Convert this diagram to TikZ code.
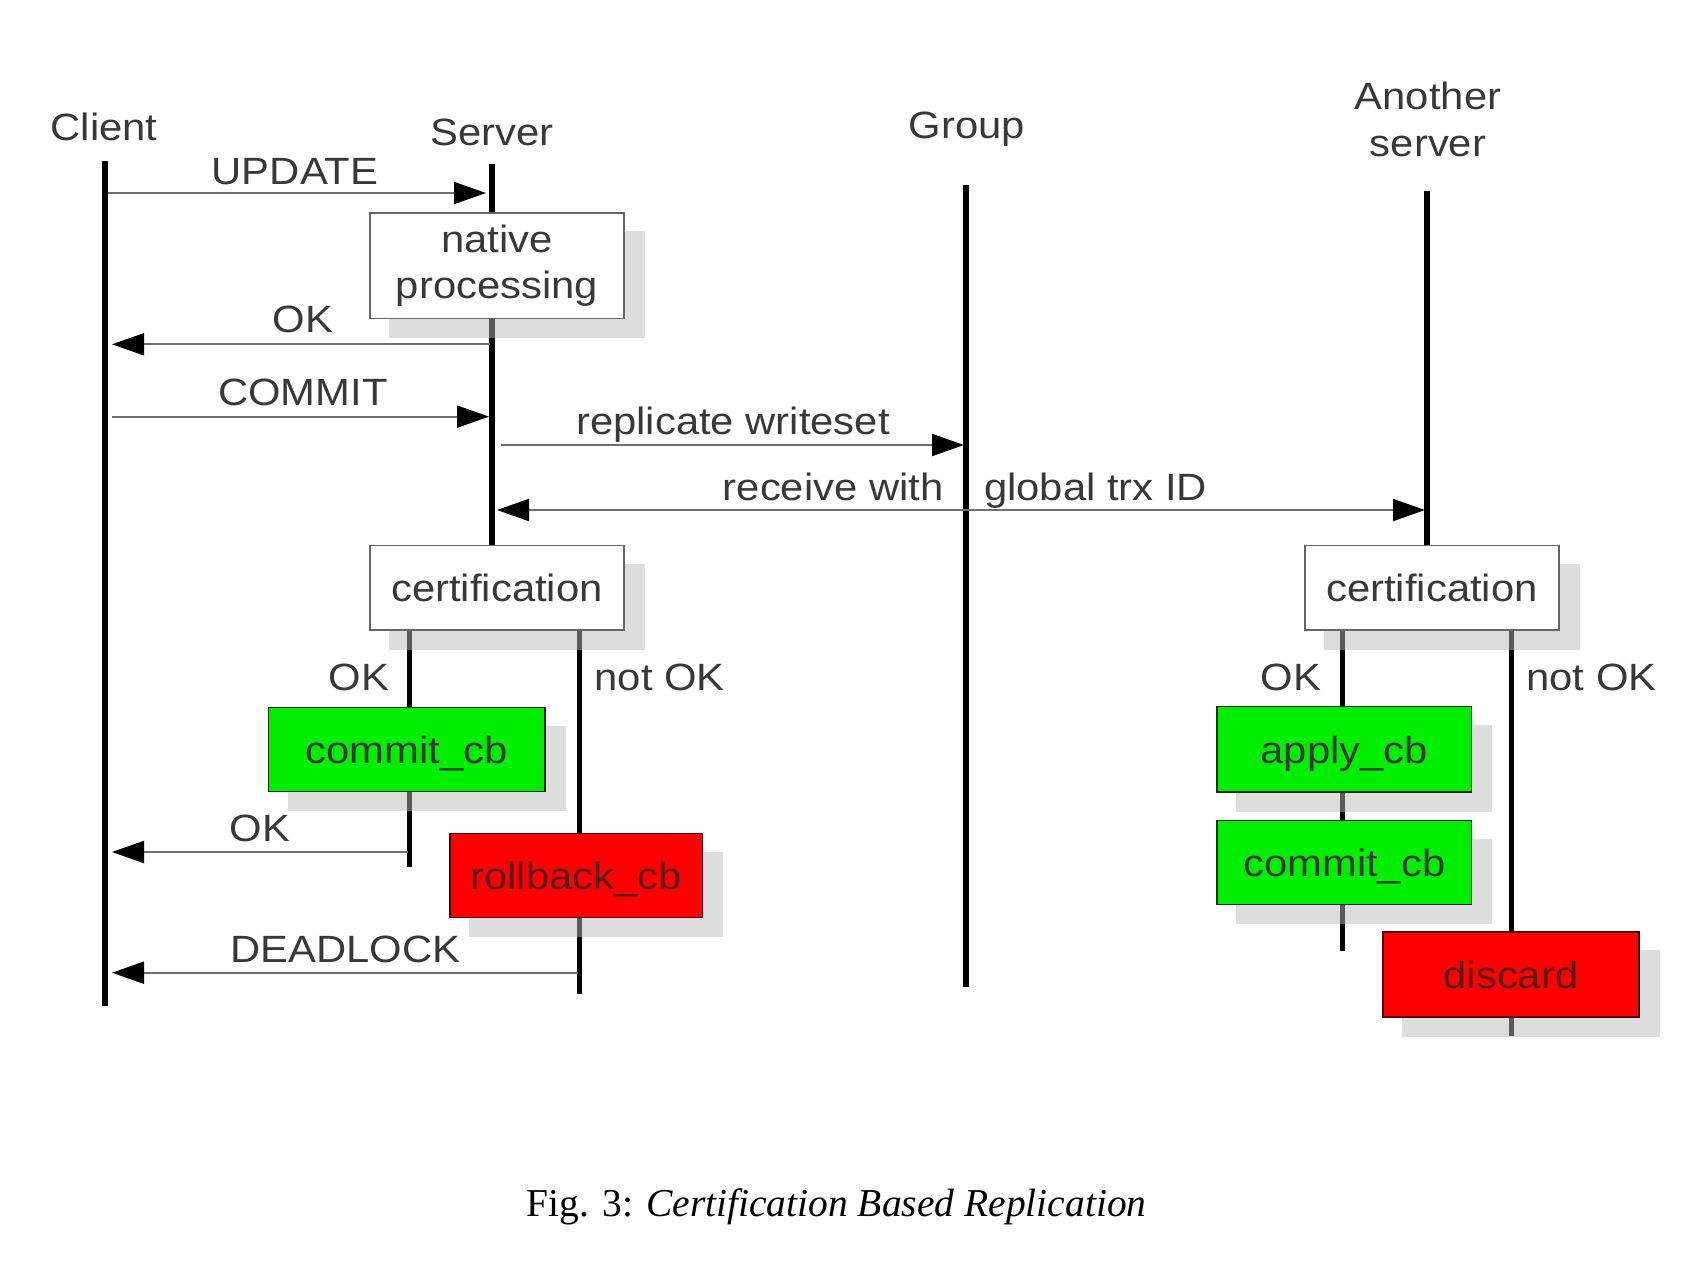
\documentclass[tikz,border=0pt]{standalone}
\usepackage{fontspec}
\newfontfamily\arl{Liberation Sans}[FakeStretch=1.1]
\newfontfamily\tms{Liberation Serif}
\usetikzlibrary{arrows.meta}
\pgfdeclarelayer{lifelayer}
\pgfdeclarelayer{shadowlayer}
\pgfsetlayers{lifelayer,shadowlayer,main}
\definecolor{txt}{HTML}{383838}
\definecolor{arrline}{HTML}{707070}
\definecolor{boxgreen}{HTML}{00EE00}
\definecolor{boxred}{HTML}{FF0000}
\definecolor{redtxt}{HTML}{5A1A1A}
\definecolor{redborder}{HTML}{500000}
\definecolor{shadowc}{HTML}{B9B9B9}
\definecolor{wborder}{HTML}{666666}
\begin{document}
\begin{tikzpicture}[x=0.5pt,y=-0.5pt,
  lbl/.style={font=\arl\fontsize{19}{23.5}\selectfont, text=txt, inner sep=0pt},
  lifeline/.style={line width=3pt, black},
  branch/.style={line width=2.5pt, black},
  msg/.style={line width=1pt, arrline, -{Triangle[length=16pt,width=11pt,color=black]}},
  dmsg/.style={line width=1pt, arrline, {Triangle[length=16pt,width=11pt,color=black]}-{Triangle[length=16pt,width=11pt,color=black]}},
  basebox/.style={draw, line width=0.6pt, inner sep=0pt, font=\arl\fontsize{19}{23}\selectfont, align=center},
  fixedtext/.style={text height=14pt, text depth=0pt},
  wbox/.style={basebox, fill=white, draw=wborder, text=txt},
  gbox/.style={basebox, fixedtext, fill=boxgreen, draw=black!85, text=txt},
  rbox/.style={basebox, fixedtext, fill=boxred, draw=redborder, text=redtxt},
  shadowbox/.style={fill=shadowc, opacity=0.49}
]
\useasboundingbox (0,0) rectangle (1705,1260);

% boxes
\node[wbox, minimum width=127pt, minimum height=52.8pt] (native) at (497,265.8) {native\\processing};
\node[wbox, fixedtext, minimum width=127pt, minimum height=42.4pt] (scert) at (497,587.6) {certification};
\node[gbox, minimum width=138.35pt, minimum height=42.2pt] (commitS) at (406.6,749.5) {commit\_cb};
\node[rbox, minimum width=126.15pt, minimum height=42pt] (rollback) at (576.2,875.3) {rollback\_cb};
\node[wbox, fixedtext, minimum width=127pt, minimum height=42.4pt] (acert) at (1432,587.6) {certification};
\node[gbox, minimum width=127.3pt, minimum height=42.85pt] (apply) at (1344.3,749.2) {apply\_cb};
\node[gbox, minimum width=127.3pt, minimum height=41.8pt] (commitA) at (1344.3,862.6) {commit\_cb};
\node[rbox, minimum width=128pt, minimum height=42.5pt] (discard) at (1511,974.5) {discard};

% lifeline labels
\node[lbl, anchor=base] (client) at (104,140.6) {Client};
\node[lbl, anchor=base] (server) at (492,145.4) {Server};
\node[lbl, anchor=base] (group) at (966.7,138.6) {Group};
\node[lbl, align=center] (another) at (1428,119) {Another\\server};

% lifeline coordinates
\coordinate (cTop) at (104.6,160.7);
\coordinate (cBot) at (104.6,1005.7);
\coordinate (sTop) at (492,164);
\coordinate (gTop) at (966,184.8);
\coordinate (gBot) at (966,986.8);
\coordinate (aTop) at (1427,190.8);
\coordinate (sOKend) at (409,867);
\coordinate (sNOKend) at (579,993.6);
\coordinate (aOKend) at (1342,951.4);
\coordinate (aNOKend) at (1511.4,1035.8);

\begin{pgfonlayer}{lifelayer}
\draw[lifeline] (cTop) -- (cBot);
\draw[lifeline] (sTop) -- (sTop |- native.north);
\draw[lifeline] (sTop |- native.south) -- (sTop |- scert.north);
\draw[lifeline] (gTop) -- (gBot);
\draw[lifeline] (aTop) -- (aTop |- acert.north);
\draw[branch] (sOKend |- scert.south) -- (sOKend |- commitS.north);
\draw[branch] (sOKend |- commitS.south) -- (sOKend);
\draw[branch] (sNOKend |- scert.south) -- (sNOKend |- rollback.north);
\draw[branch] (sNOKend |- rollback.south) -- (sNOKend);
\draw[branch] (aOKend |- acert.south) -- (aOKend |- apply.north);
\draw[branch] (aOKend |- apply.south) -- (aOKend |- commitA.north);
\draw[branch] (aOKend |- commitA.south) -- (aOKend);
\draw[branch] (aNOKend |- acert.south) -- (aNOKend |- discard.north);
\draw[branch] (aNOKend |- discard.south) -- (aNOKend);
\end{pgfonlayer}

\begin{pgfonlayer}{shadowlayer}
\foreach \n in {native,scert,commitS,rollback,acert,apply,commitA,discard}
  \fill[shadowbox] ([shift={(20,19)}]\n.south west) rectangle ([shift={(20,19)}]\n.north east);
\end{pgfonlayer}

% message end points
\coordinate (updA) at (108,193);
\coordinate (updB) at (486,193);
\coordinate (ok1A) at (490,344.3);
\coordinate (ok1B) at (112,344.3);
\coordinate (comA) at (112,416.6);
\coordinate (comB) at (489,416.6);
\coordinate (repA) at (501,445);
\coordinate (repB) at (964,445);
\coordinate (recA) at (497,510);
\coordinate (recB) at (1425,510);
\coordinate (ok2A) at (408,852);
\coordinate (ok2B) at (112,852);
\coordinate (ddA) at (578,972.7);
\coordinate (ddB) at (112,972.7);

\draw[msg] (updA) -- (updB);
\draw[msg] (ok1A) -- (ok1B);
\draw[msg] (comA) -- (comB);
\draw[msg] (repA) -- (repB);
\draw[dmsg] (recA) -- (recB);
\draw[msg] (ok2A) -- (ok2B);
\draw[msg] (ddA) -- (ddB);

% message labels
\node[lbl, anchor=base] (lupd) at (295,184) {UPDATE};
\node[lbl, anchor=base] (lok1) at (303,332.7) {OK};
\node[lbl, anchor=base] (lcom) at (303,405.8) {COMMIT};
\node[lbl, anchor=base] (lrep) at (733,434) {replicate writeset};
\node[lbl, anchor=base east] (lrec) at (944,500) {receive with};
\node[lbl, anchor=base west] (lgid) at (983.6,500) {global trx ID};
\node[lbl, anchor=base east] (lsok) at (389.3,690) {OK};
\node[lbl, anchor=base west] (lsnok) at (594.3,690) {not OK};
\node[lbl, anchor=base] (lok2) at (260,841) {OK};
\node[lbl, anchor=base] (ldead) at (345.5,962.7) {DEADLOCK};
\node[lbl, anchor=base east] (laok) at (1321.6,690) {OK};
\node[lbl, anchor=base west] (lanok) at (1526,690) {not OK};

% caption
\node[font=\tms\fontsize{19.75}{24}\selectfont, anchor=base, text=black, inner sep=0pt] (caption) at (836.5,1216.6) {Fig. 3: \textit{Certification Based Replication}};
\end{tikzpicture}
\end{document}
